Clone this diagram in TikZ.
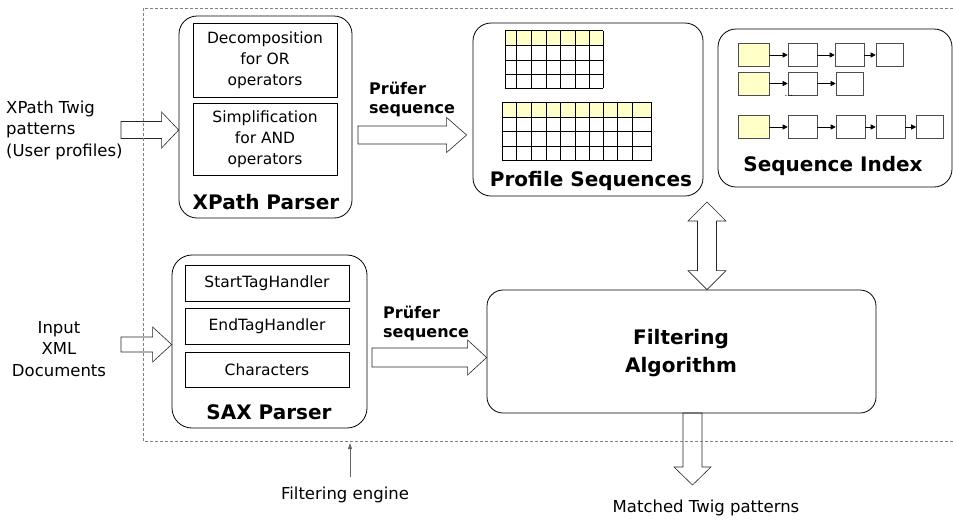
\documentclass[tikz,border=0pt]{standalone}
\usepackage{fontspec}
\setmainfont{DejaVu Sans}
\usetikzlibrary{arrows.meta,calc}
\definecolor{cellyellow}{HTML}{FFFFC8}
\definecolor{dashgray}{HTML}{808080}
\newcommand\hblock[6]{%
  \draw[blockarrow] let \p1=(#1), \p2=(#2) in
    (\x1,\y1+#3) -- (\x2-#6-#5,\y1+#3) -- (\x2-#6-#5,\y1+#4) -- (\x2-#6,\y1)
    -- (\x2-#6-#5,\y1-#4) -- (\x2-#6-#5,\y1-#3) -- (\x1,\y1-#3) -- cycle;}
\newcommand\vdblblock[5]{%
  \draw[blockarrow] let \p1=(#1), \p2=(#2) in
    (\x1,\y1) -- (\x1+#4,\y1-#5) -- (\x1+#3,\y1-#5) -- (\x1+#3,\y2+#5) -- (\x1+#4,\y2+#5)
    -- (\x1,\y2) -- (\x1-#4,\y2+#5) -- (\x1-#3,\y2+#5) -- (\x1-#3,\y1-#5) -- (\x1-#4,\y1-#5) -- cycle;}
\newcommand\vdownblock[5]{%
  \draw[blockarrow] let \p1=(#1), \p2=(#2) in
    (\x1-#3,\y1) -- (\x1-#3,\y2+#5) -- (\x1-#4,\y2+#5) -- (\x1,\y2)
    -- (\x1+#4,\y2+#5) -- (\x1+#3,\y2+#5) -- (\x1+#3,\y1) -- cycle;}
\begin{document}
\begin{tikzpicture}[x=1pt,y=-1pt,
  font=\fontsize{15.5}{21}\selectfont,
  box/.style={draw, rounded corners=18pt, line width=0.8pt, inner sep=0pt},
  innerbox/.style={draw, line width=0.6pt, align=center, inner sep=0pt, minimum width=144pt},
  boldlbl/.style={font=\fontsize{20}{22}\selectfont\bfseries, inner sep=0pt},
  prufer/.style={font=\fontsize{16}{19}\selectfont\bfseries, align=left, inner sep=0pt},
  plain/.style={inner sep=0pt, align=center, font=\fontsize{16.5}{21.5}\selectfont},
  blockarrow/.style={draw=black!85, line width=0.6pt},
  sbox/.style={draw=black!70, line width=0.6pt, minimum width=29pt, minimum height=23pt, inner sep=0pt},
  ybox/.style={sbox, fill=cellyellow},
  sarrow/.style={-{Triangle[length=5pt,width=5pt]}, line width=0.6pt},
  gridline/.style={line width=0.7pt},
  thickgrid/.style={line width=1pt}
]
\useasboundingbox (0,0) rectangle (953,520);

% ---------- XPath parser ----------
\node[box, minimum width=173pt, minimum height=202pt] (xp) at (265.5,117) {};
\node[innerbox, minimum height=74pt] (dec) at (265,60) {Decomposition\\for OR\\operators};
\node[innerbox, minimum height=72pt] (simp) at (265,139) {Simplification\\for AND\\operators};
\node[boldlbl] (xpl) at (266,202) {XPath Parser};

% ---------- SAX parser ----------
\node[box, minimum width=195pt, minimum height=173pt, rounded corners=20pt] (sax) at (269.5,341.5) {};
\node[innerbox, minimum width=164pt, minimum height=36pt] (sth) at (267,283) {StartTagHandler};
\node[innerbox, minimum width=164pt, minimum height=36pt] (eth) at (267,326) {EndTagHandler};
\node[innerbox, minimum width=164pt, minimum height=35pt] (chr) at (267,369.5) {Characters};
\node[boldlbl] (saxl) at (269,412) {SAX Parser};

% ---------- Profile sequences ----------
\node[box, minimum width=230pt, minimum height=173pt] (ps) at (588,109.5) {};
\fill[cellyellow] (505,30.7) rectangle (603.3,45);
\foreach \x in {505,516.7,531.7,546,560,575,603.3}
  \draw[gridline] (\x,30.7) -- (\x,88.3);
\draw[thickgrid] (589.3,30.7) -- (589.3,88.3);
\foreach \y in {30.7,45,88.3}
  \draw[gridline] (505,\y) -- (603.3,\y);
\foreach \y in {60,74}
  \draw[thickgrid] (505,\y) -- (603.3,\y);
\fill[cellyellow] (502.3,102.7) rectangle (651.7,117.3);
\foreach \x in {502.3,516.7,531.7,546,560,575,603.3,617.7,632.3,651.7}
  \draw[gridline] (\x,102.7) -- (\x,160);
\draw[thickgrid] (589.3,102.7) -- (589.3,160);
\foreach \y in {102.7,117.3,146.7,160}
  \draw[gridline] (502.3,\y) -- (651.7,\y);
\draw[thickgrid] (502.3,131.7) -- (651.7,131.7);
\node[boldlbl] (psl) at (591,181) {Profile Sequences};

% ---------- Sequence index ----------
\node[box, minimum width=234pt, minimum height=158pt] (si) at (835,108) {};
\node[ybox, minimum width=31pt] (r11) at (753.5,55) {};
\node[sbox] (r12) at (802.5,55) {};
\node[sbox] (r13) at (849.5,55) {};
\node[sbox, minimum width=27pt] (r14) at (889.5,55) {};
\node[ybox, minimum width=31pt] (r21) at (753.5,83.5) {};
\node[sbox] (r22) at (802.5,83.5) {};
\node[sbox, minimum width=27pt] (r23) at (849.5,83.5) {};
\node[ybox, minimum width=31pt] (r31) at (753.5,127) {};
\node[sbox] (r32) at (802.5,127) {};
\node[sbox] (r33) at (850.5,127) {};
\node[sbox] (r34) at (890.5,127) {};
\node[sbox, minimum width=27pt] (r35) at (930,127) {};
\draw[sarrow] (r11) -- (r12);
\draw[sarrow] (r12) -- (r13);
\draw[sarrow] (r13) -- (r14);
\draw[sarrow] (r21) -- (r22);
\draw[sarrow] (r22) -- (r23);
\draw[sarrow] (r31) -- (r32);
\draw[sarrow] (r32) -- (r33);
\draw[sarrow] (r33) -- (r34);
\draw[sarrow] (r34) -- (r35);
\node[inner sep=0pt, font=\fontsize{9}{9}\selectfont] (dots) at (789,96) {...};
\node[boldlbl] (sil) at (833,166) {Sequence Index};

% ---------- Filtering algorithm ----------
\node[box, minimum width=389pt, minimum height=123pt, rounded corners=16pt] (fa) at (681.5,351.5) {};
\node[boldlbl, align=center, font=\fontsize{20}{28}\selectfont\bfseries] (fal) at (681,353) {Filtering\\Algorithm};

% ---------- external labels ----------
\node[plain, align=left, anchor=west] (xin) at (6,130) {XPath Twig\\patterns\\(User profiles)};
\node[plain] (xmlin) at (59,349) {Input\\XML\\Documents};
\node[plain] (fe) at (345,495) {Filtering engine};
\node[plain] (mt) at (706,508) {Matched Twig patterns};
\node[prufer, anchor=west] (pr1) at (369,99) {Prüfer\\sequence};
\node[prufer, anchor=west] (pr2) at (383,323) {Prüfer\\sequence};

% ---------- block arrows ----------
\coordinate (a1) at (121,130);
\hblock{a1}{xp.west}{8.5pt}{18pt}{17pt}{0pt}
\coordinate (a2) at (358,135);
\hblock{a2}{ps.west}{9pt}{17.5pt}{20pt}{6pt}
\coordinate (a3) at (121,344.5);
\hblock{a3}{sax.west}{7.5pt}{17.5pt}{19pt}{0pt}
\coordinate (a4) at (372,357.5);
\hblock{a4}{fa.west}{9.5pt}{17.5pt}{19pt}{0pt}
\coordinate (d1) at (707,202);
\coordinate (d2) at (d1 |- fa.north);
\vdblblock{d1}{d2}{9.5pt}{19pt}{19pt}
\coordinate (o1) at (692.5,413);
\coordinate (o2) at (692.5,485);
\vdownblock{o1}{o2}{9.5pt}{18.5pt}{18pt}

% ---------- filtering engine pointer ----------
\coordinate (feTop) at (350,443);
\draw[draw=black!60, line width=0.8pt, -{Triangle[length=6pt,width=4pt]}, shorten <=10pt] (fe.north -| feTop) -- (feTop);

% ---------- dashed engine boundary ----------
\draw[dashgray, line width=0.8pt, dash pattern=on 3pt off 2pt] (953,8) -- (143,8) -- (143,441) -- (953,441);
\end{tikzpicture}
\end{document}
